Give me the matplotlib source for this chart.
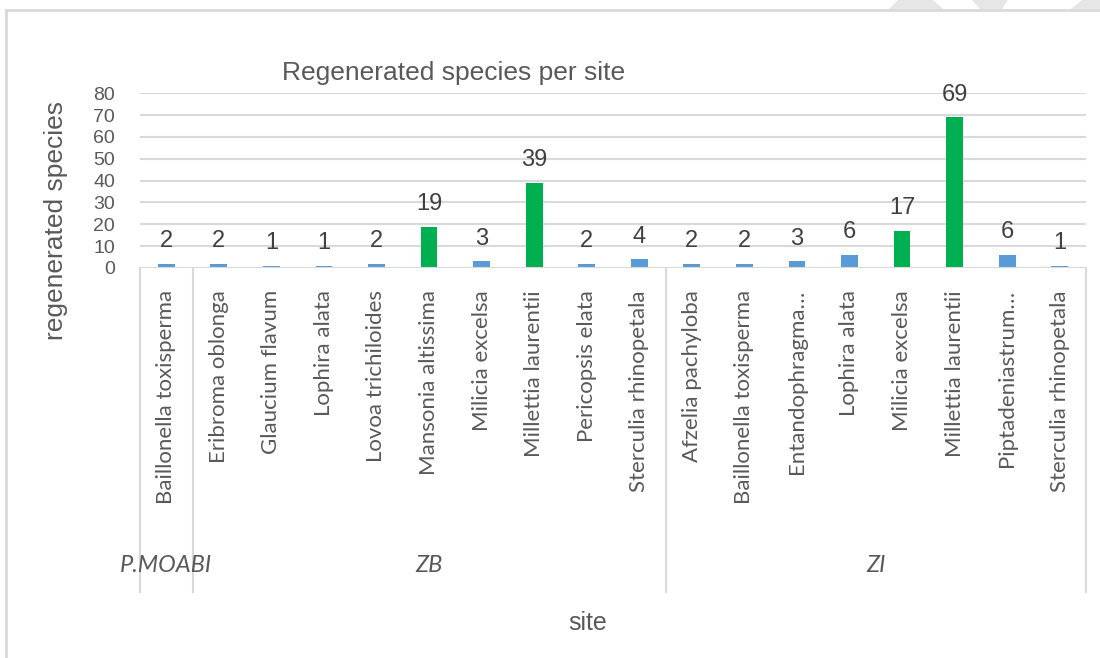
import matplotlib
matplotlib.use("Agg")
import matplotlib.pyplot as plt
import matplotlib.transforms as mtransforms
from matplotlib.lines import Line2D
from matplotlib.patches import Polygon

# ---- data ----
groups = ["P.MOABI", "ZB", "ZI"]
group_species = [
    ["Baillonella toxisperma"],
    ["Eribroma oblonga", "Glaucium flavum", "Lophira alata", "Lovoa trichiloides",
     "Mansonia altissima", "Milicia excelsa", "Millettia laurentii",
     "Pericopsis elata", "Sterculia rhinopetala"],
    ["Afzelia pachyloba", "Baillonella toxisperma", "Entandophragma…",
     "Lophira alata", "Milicia excelsa", "Millettia laurentii",
     "Piptadeniastrum…", "Sterculia rhinopetala"],
]
group_values = [
    [2],
    [2, 1, 1, 2, 19, 3, 39, 2, 4],
    [2, 2, 3, 6, 17, 69, 6, 1],
]
highlighted = [
    [False],
    [False, False, False, False, True, False, True, False, False],
    [False, False, False, False, True, True, False, False],
]
y_ticks = [0, 10, 20, 30, 40, 50, 60, 70, 80]
title = "Regenerated species per site"
x_title = "site"
y_title = "regenerated species"

BLUE = "#5B9BD5"
GREEN = "#00B050"
TXT = "#595959"
GRID = "#D9D9D9"

W, H = 1100, 658
fig = plt.figure(figsize=(W / 100, H / 100), dpi=100)

def fx(px):
    return px / W

def fy(py):
    return 1 - py / H

ax_l, ax_r, ax_t, ax_b = 140, 1086, 93.3, 268
ax = fig.add_axes([fx(ax_l), fy(ax_b), fx(ax_r - ax_l), fy(ax_t) - fy(ax_b)])

labels = [s for g in group_species for s in g]
values = [v for g in group_values for v in g]
hl = [h for g in highlighted for h in g]
colors = [GREEN if h else BLUE for h in hl]
n = len(labels)
xs = list(range(n))

ax.bar(xs, values, width=0.32, color=colors, zorder=3)
ax.set_xlim(-0.5, n - 0.5)
ax.set_ylim(0, 80)
ax.set_yticks(y_ticks)
ax.set_yticklabels([str(t) for t in y_ticks], fontsize=14, color=TXT,
                   family="Liberation Sans")
ax.tick_params(axis="y", length=0, pad=18)
ax.tick_params(axis="x", length=0, labelbottom=False)
for t in y_ticks[1:]:
    ax.axhline(t, color=GRID, lw=1.5, zorder=1)
for s in ax.spines.values():
    s.set_visible(False)
ax.axhline(0, color=GRID, lw=1.5, zorder=4)

# data labels
for x, v in zip(xs, values):
    ax.annotate(str(v), (x, v), xytext=(0, 12), textcoords="offset points",
                ha="center", va="baseline", fontsize=17, color="#404040",
                family="Liberation Sans")

# category labels
trans = ax.get_xaxis_transform()
off = mtransforms.ScaledTranslation(0, -22 / 100, fig.dpi_scale_trans)
for x, lab in zip(xs, labels):
    ax.text(x, 0, lab, transform=trans + off, rotation=90, ha="center", va="top",
            fontsize=16, color=TXT, family="Lato")

# group separators and labels
bottom_px = 592
px_to_data = 80 / (ax_b - ax_t)
bnds = [-0.5]
start = 0
for g, sp in zip(groups, group_species):
    end = start + len(sp)
    bnds.append(end - 0.5)
    start = end
for b in bnds:
    ax.add_line(Line2D([b, b], [0, -(bottom_px - ax_b) * px_to_data],
                       color=GRID, lw=1.5, clip_on=False, zorder=2))
start = 0
for g, sp in zip(groups, group_species):
    mid = start + (len(sp) - 1) / 2
    ax.text(mid, -(565 - ax_b) * px_to_data, g, ha="center", va="center",
            fontsize=17, style="italic", color=TXT, family="Lato", clip_on=False)
    start += len(sp)

# titles
fig.text(fx(454), fy(73), title, ha="center", va="center", fontsize=19,
         color=TXT, family="Liberation Sans")
fig.text(fx(588), fy(623), x_title, ha="center", va="center", fontsize=18,
         color=TXT, family="Liberation Sans")
fig.text(fx(56), fy(220), y_title, ha="center", va="center", fontsize=19,
         rotation=90, color=TXT, family="Liberation Sans")

# chart border
fig.add_artist(Line2D([fx(6), fx(1100)], [fy(10), fy(10)], color=GRID, lw=2))
fig.add_artist(Line2D([fx(6), fx(6)], [fy(10), fy(658)], color=GRID, lw=2))

# decorative shapes top right
shapes = [
    [(889, 9), (943, 9), (933, 0), (898, 0)],
    [(972, 0), (1008, 0), (1002, 9), (980, 9)],
    [(1071, 9), (1100, 9), (1100, 0), (1082, 0)],
]
for pts in shapes:
    fig.add_artist(Polygon([(fx(a), fy(b)) for a, b in pts], closed=True,
                           facecolor="#E6E6E6", edgecolor="none",
                           transform=fig.transFigure))

fig.savefig("out.png", dpi=100)
